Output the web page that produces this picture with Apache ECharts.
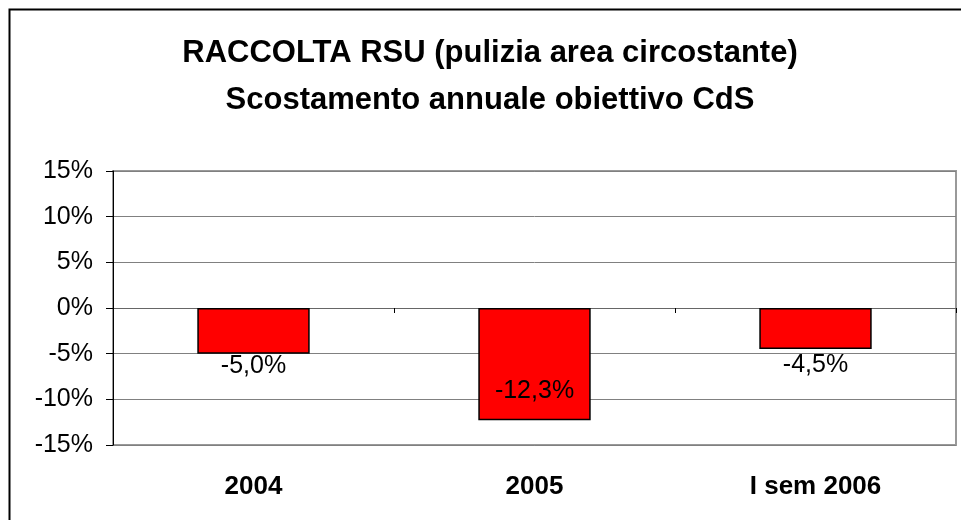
<!DOCTYPE html>
<html>
<head>
<meta charset="utf-8">
<script src="https://cdn.jsdelivr.net/npm/echarts@6/dist/echarts.min.js"></script>
<style>html,body{margin:0;padding:0;background:#fff}#c{width:961px;height:520px}</style>
</head>
<body>
<div id="c"></div>
<script>
const categories = ['2004', '2005', 'I sem 2006'];
const values = [-5.0, -12.3, -4.5];
const valueLabels = ['-5,0%', '-12,3%', '-4,5%'];
const yTicks = [-15, -10, -5, 0, 5, 10, 15];
const titleLines = ['RACCOLTA RSU (pulizia area circostante)', 'Scostamento annuale obiettivo CdS'];

const FONT = '"Liberation Sans", Arial, sans-serif';
const chart = echarts.init(document.getElementById('c'), null, {renderer: 'canvas'});

const labelPositions = ['bottom', 'insideBottom', 'bottom'];
const labelDist = [0, 17, 4];

chart.setOption({
  animation: false,
  backgroundColor: '#fff',
  title: {
    text: titleLines.join('\n'),
    left: 485, top: 25, textAlign: 'center',
    textStyle: {fontFamily: FONT, fontWeight: 'bold', fontSize: 31, color: '#000', lineHeight: 47}
  },
  graphic: [{
    type: 'rect', shape: {x: 9.5, y: 9.5, width: 1000, height: 600},
    style: {fill: 'none', stroke: '#000', lineWidth: 2}, z: 100
  }],
  grid: {left: 113, right: 5, top: 171, bottom: 75, show: true, borderColor: '#999', borderWidth: 2, backgroundColor: '#fff'},
  xAxis: [{
    type: 'category', data: categories,
    axisLine: {onZero: true, lineStyle: {color: '#666', width: 1}},
    axisTick: {show: true, length: 5, lineStyle: {color: '#000'}},
    axisLabel: {show: false}
  }, {
    type: 'category', data: categories, position: 'bottom',
    axisLine: {show: false}, axisTick: {show: false},
    axisLabel: {show: true, margin: 29, fontFamily: FONT, fontWeight: 'bold', fontSize: 26, color: '#000'}
  }],
  yAxis: {
    type: 'value', min: yTicks[0], max: yTicks[yTicks.length - 1], interval: 5,
    axisLine: {show: true, lineStyle: {color: '#000', width: 1}},
    axisTick: {show: true, length: 7, lineStyle: {color: '#000'}},
    axisLabel: {formatter: v => v + '%', fontFamily: FONT, fontSize: 25, color: '#000', margin: 20},
    splitLine: {show: true, lineStyle: {color: '#808080', width: 1}}
  },
  series: [{
    type: 'bar', xAxisIndex: 0, barWidth: '40%',
    data: values.map((v, i) => ({
      value: v,
      label: {show: true, position: labelPositions[i], distance: labelDist[i], formatter: valueLabels[i],
        fontFamily: FONT, fontSize: 25, color: '#000'}
    })),
    itemStyle: {color: '#ff0000', borderColor: '#000', borderWidth: 1.5}
  }]
});
</script>
</body>
</html>
